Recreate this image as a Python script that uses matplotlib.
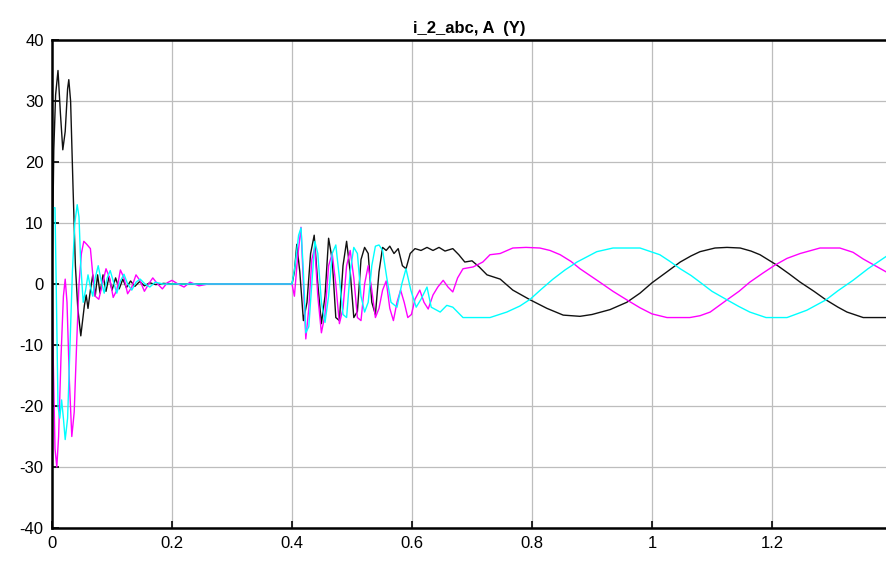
import matplotlib
matplotlib.use("Agg")
import matplotlib.pyplot as plt

# Phase A (black)
t_a = [0, 0.003, 0.006, 0.01, 0.014, 0.018, 0.022, 0.026, 0.028, 0.031, 0.035, 0.039,
       0.043, 0.048, 0.051, 0.054, 0.057, 0.06, 0.064, 0.068, 0.072, 0.076, 0.08, 0.085,
       0.09, 0.095, 0.1, 0.106, 0.112, 0.118, 0.124, 0.131, 0.138, 0.146, 0.154, 0.163,
       0.173, 0.186, 0.2, 0.4,
       0.404, 0.408, 0.413, 0.419, 0.425, 0.431, 0.437, 0.443, 0.449, 0.455, 0.461,
       0.467, 0.473, 0.479, 0.485, 0.491, 0.497, 0.503, 0.509, 0.515, 0.521, 0.527,
       0.533, 0.539, 0.545, 0.551, 0.557, 0.563, 0.57, 0.577, 0.584, 0.59, 0.597,
       0.605, 0.615, 0.625, 0.635, 0.645, 0.655, 0.668, 0.678, 0.688, 0.7, 0.712,
       0.725, 0.747, 0.768, 0.797, 0.825, 0.852, 0.88, 0.9, 0.93, 0.958, 0.98, 1.0,
       1.025, 1.047, 1.065, 1.08, 1.105, 1.125, 1.147, 1.165, 1.18, 1.208, 1.228,
       1.247, 1.27, 1.29, 1.31, 1.325, 1.352, 1.39]
i_a = [0, 22, 31, 35, 28, 22, 25, 32, 33.5, 30, 16, 3,
       -4, -8.5, -6, -3.5, -1.8, -4, -1, 1.5, -2, 1.5, -1.5, 1.5,
       -1.2, 1.2, -1, 1, -0.8, 0.8, -0.6, 0.5, -0.4, 0.4, -0.3, 0.2,
       -0.1, 0.1, 0, 0,
       2, 6.5, 2, -6, -3, 5, 8, 0, -6.5, -2, 7.5,
       4, -5.5, -6, 3, 7, 2, -5.5, -4.5, 4, 6, 5,
       -3, -5, 2, 6, 5.5, 6.2, 5, 5.8, 3, 2.5, 5,
       5.8, 5.5, 6, 5.5, 6, 5.4, 5.8, 4.8, 3.6, 3.8, 2.8,
       1.5, 0.8, -1, -2.6, -4, -5.1, -5.3, -5.0, -4.2, -3, -1.5, 0.2,
       2.0, 3.6, 4.6, 5.3, 5.9, 6.0, 5.9, 5.4, 4.8, 3.1, 1.7,
       0.3, -1.2, -2.6, -3.8, -4.6, -5.5, -5.5]

# Phase B (magenta)
t_b = [0, 0.002, 0.005, 0.008, 0.011, 0.015, 0.019, 0.022, 0.025, 0.029, 0.033, 0.037,
       0.041, 0.045, 0.049, 0.053, 0.058, 0.064, 0.068, 0.072, 0.078, 0.084, 0.09, 0.096,
       0.102, 0.108, 0.114, 0.12, 0.126, 0.133, 0.14, 0.147, 0.154, 0.161, 0.168, 0.176,
       0.184, 0.192, 0.2, 0.21, 0.22, 0.23, 0.245, 0.26, 0.4,
       0.404, 0.409, 0.415, 0.419, 0.423, 0.428, 0.433, 0.438, 0.443, 0.449, 0.455,
       0.461, 0.467, 0.473, 0.479, 0.485, 0.491, 0.497, 0.503, 0.509, 0.515, 0.521,
       0.527, 0.533, 0.539, 0.545, 0.551, 0.557, 0.563, 0.569, 0.575, 0.581, 0.587,
       0.593, 0.599, 0.605, 0.613, 0.62, 0.627, 0.635, 0.643, 0.652, 0.66, 0.668,
       0.676, 0.685, 0.702, 0.718, 0.73, 0.747, 0.768, 0.79, 0.813, 0.83, 0.847,
       0.865, 0.88, 0.913, 0.935, 0.958, 0.98, 1.0, 1.025, 1.063, 1.08, 1.097,
       1.125, 1.145, 1.163, 1.185, 1.205, 1.225, 1.247, 1.28, 1.313, 1.335, 1.352,
       1.39]
i_b = [0, -12, -27, -30, -25, -12, -2, 0.8, -3, -16, -25, -21,
       -10, 0, 5, 7, 6.5, 5.8, 1.5, -2, -2.5, 0, 2.5, 1,
       -2.2, -1, 2.3, 1, -1.6, -0.5, 1.5, 0.5, -1.2, 0, 1.0, 0,
       -0.8, 0.2, 0.6, 0, -0.5, 0.3, -0.3, 0, 0,
       -2, 4, 9.3, 0, -9, -4, 4, 6, -2, -8, -5,
       3, 5, 0, -6.5, -4, 3, 5.5, 1, -5.5, -6, 0,
       3, -1, -5.5, -4, -1, 0.5, -4, -6, -3, -1, -3,
       -5.5, -5, -2.5, -1, -3, -4.1, -1.8, -0.5, 0.6, -0.5, -1.3,
       1, 2.5, 2.8, 3.6, 4.8, 5.0, 5.9, 6.0, 5.9, 5.5, 4.8,
       3.7, 2.5, 0.3, -1.2, -2.6, -3.9, -4.9, -5.5, -5.5, -5.2, -4.6,
       -2.6, -1.2, 0.3, 1.8, 3.1, 4.2, 5.0, 5.9, 5.9, 5.2, 4.1,
       2.0]

# Phase C (cyan)
t_c = [0, 0.001, 0.005, 0.007, 0.01, 0.013, 0.016, 0.019, 0.022, 0.026, 0.03, 0.034,
       0.038, 0.042, 0.045, 0.048, 0.052, 0.056, 0.06, 0.064, 0.068, 0.072, 0.077, 0.082,
       0.087, 0.092, 0.097, 0.102, 0.108, 0.114, 0.12, 0.126, 0.133, 0.14, 0.147, 0.155,
       0.163, 0.172, 0.185, 0.4,
       0.405, 0.411, 0.415, 0.419, 0.423, 0.428, 0.433, 0.438, 0.443, 0.449, 0.455,
       0.461, 0.467, 0.473, 0.479, 0.485, 0.491, 0.497, 0.503, 0.509, 0.515, 0.521,
       0.527, 0.533, 0.539, 0.545, 0.551, 0.558, 0.565, 0.575, 0.583, 0.59, 0.598,
       0.607, 0.615, 0.625, 0.632, 0.647, 0.658, 0.668, 0.685, 0.73, 0.758, 0.78,
       0.797, 0.815, 0.835, 0.855, 0.875, 0.908, 0.935, 0.98, 1.013, 1.03, 1.047,
       1.065, 1.08, 1.1, 1.125, 1.145, 1.163, 1.19, 1.225, 1.258, 1.29, 1.31, 1.335,
       1.36, 1.39]
i_c = [0, 12.5, 12.5, 0, -20, -22, -19, -22, -25.5, -22, -10, 2,
       10, 13, 11, 3, -3, -1, 1.5, -0.5, -2, 1, 3, 0.5,
       -1.5, 1, 2.2, 0.5, -1.5, 0.5, 1.6, 0, -1.0, 0.3, 0.8, 0,
       -0.5, 0.3, 0, 0,
       3, 8, 9.2, 2, -8, -7, 0, 7, 5, -3, -6.3,
       -2, 5, 6.4, 1, -5, -5.5, 2, 6, 5, -2, -4.6,
       -3, 3, 6.2, 6.4, 5.5, 1, -3, -3.8, 0, 2.5, -1,
       -3.8, -2.5, -0.5, -3.8, -4.6, -3.5, -3.8, -5.5, -5.5, -4.6, -3.6,
       -2.5, -0.9, 0.8, 2.3, 3.6, 5.3, 5.9, 5.9, 4.8, 3.7, 2.5,
       1.4, 0.3, -1.2, -2.6, -3.7, -4.6, -5.5, -5.5, -4.3, -2.6, -1.1, 0.6,
       2.5, 4.5]

plt.rcParams['font.family'] = ['Liberation Sans', 'DejaVu Sans']
plt.rcParams['axes.unicode_minus'] = False

fig = plt.figure(figsize=(8.86, 5.68), dpi=100)
ax = fig.add_axes([52 / 886, 40 / 568, 834 / 886, 488 / 568])

ax.plot(t_a, i_a, color='#111111', lw=1.0)
ax.plot(t_b, i_b, color='#ff00ff', lw=1.0)
ax.plot(t_c, i_c, color='#00ffff', lw=1.0)

ax.set_xlim(0, 1.39)
ax.set_ylim(-40, 40)
ax.set_xticks([0, 0.2, 0.4, 0.6, 0.8, 1.0, 1.2])
ax.set_xticklabels(['0', '0.2', '0.4', '0.6', '0.8', '1', '1.2'])
ax.set_yticks(range(-40, 41, 10))
ax.grid(True, color='#bdbdbd', lw=0.9)
ax.tick_params(direction='in', length=5, width=1.2, labelsize=12, pad=6)
for s in ax.spines.values():
    s.set_linewidth(1.8)
ax.spines['right'].set_visible(False)

ax.set_title('i_2_abc, A  (Y)', fontsize=12, fontweight='bold', pad=5)

fig.savefig('out.png', dpi=100)
